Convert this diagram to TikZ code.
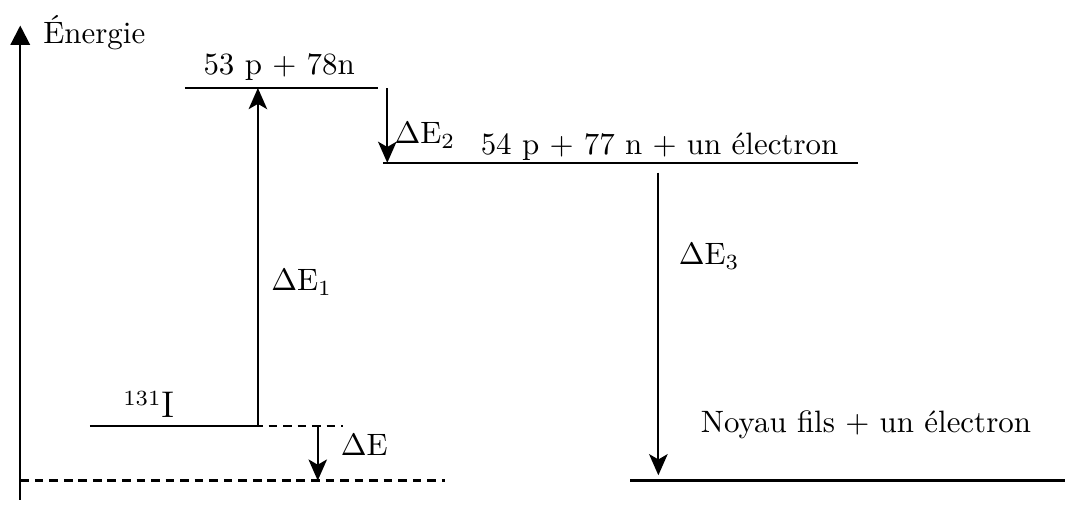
\documentclass[tikz,border=0pt]{standalone}
\usepackage{fontspec}
\usetikzlibrary{arrows.meta,positioning}

\begin{document}
\begin{tikzpicture}[
    >={Stealth[length=2.4mm, width=2.1mm, inset=0.6mm]},
    line width=0.7pt,
    % niveaux d'énergie
    niveau/.style={line width=0.7pt},
    pointille/.style={dash pattern=on 2.8pt off 1.9pt, line width=0.7pt},
    fleche/.style={->, line width=0.7pt},
    etiquette/.style={anchor=base west, inner sep=0pt}
]
\useasboundingbox (0,0) rectangle (12.1,5.74);

% --- 1. Axe des énergies ---
\coordinate (axe_bas) at (0.23, 0.06);
\coordinate (axe_haut) at (0.23, 5.45);
\draw[-{Triangle[length=2.2mm, width=2.2mm]}, line width=0.7pt] (axe_bas) -- (axe_haut);
\node[etiquette] (energie) at (0.48, 5.25) {Énergie};

% --- 2. Niveaux ---
% 131I
\coordinate (iode_g) at (1.02, 0.90);
\coordinate (iode_d) at (2.93, 0.90);
\coordinate (iode_p1) at (2.39, 0.90);
\coordinate (iode_p2) at (3.90, 0.90);
\draw[niveau] (iode_g) -- (iode_d);
\draw[pointille] (iode_p1) -- (iode_p2);
\node[etiquette] (iode) at (1.39, 1.00) {$^{131}${\large I}};

% 53 p + 78 n
\coordinate (nuc_g) at (2.10, 4.74);
\coordinate (nuc_d) at (4.30, 4.74);
\draw[niveau] (nuc_g) -- (nuc_d);
\node[etiquette] (nucleons) at (2.30, 4.89) {53 p + 78n};

% 54 p + 77 n + un électron
\coordinate (inter_g) at (4.35, 3.89);
\coordinate (inter_d) at (9.75, 3.89);
\draw[niveau] (inter_g) -- (inter_d);
\node[etiquette] (inter) at (5.45, 3.98) {54 p + 77 n + un électron};

% Noyau fils + un électron
\coordinate (fils_g) at (7.16, 0.28);
\coordinate (fils_d) at (12.1, 0.28);
\draw[niveau] (fils_g) -- (fils_d);
\node[etiquette] (fils) at (7.95, 0.83) {Noyau fils + un électron};

% niveau de référence
\coordinate (ref_g) at (0.23, 0.28);
\coordinate (ref_d) at (5.06, 0.28);
\draw[pointille] (ref_g) -- (ref_d);

% --- 3. Flèches ---
\coordinate (e1_haut) at (2.93, 4.74);
\draw[fleche] (iode_d) -- (e1_haut);
\node[etiquette] (de1) at (3.07, 2.44) {$\Delta$E$_1$};

\coordinate (e2_haut) at (4.40, 4.74);
\coordinate (e2_bas) at (4.40, 3.89);
\draw[fleche] (e2_haut) -- (e2_bas);
\node[etiquette] (de2) at (4.47, 4.11) {$\Delta$E$_2$};

\coordinate (e3_haut) at (7.48, 3.78);
\coordinate (e3_bas) at (7.48, 0.34);
\draw[fleche] (e3_haut) -- (e3_bas);
\node[etiquette] (de3) at (7.70, 2.73) {$\Delta$E$_3$};

\coordinate (e_haut) at (3.61, 0.90);
\coordinate (e_bas) at (3.61, 0.28);
\draw[fleche] (e_haut) -- (e_bas);
\node[etiquette] (de) at (3.86, 0.57) {$\Delta$E};

\end{tikzpicture}
\end{document}
